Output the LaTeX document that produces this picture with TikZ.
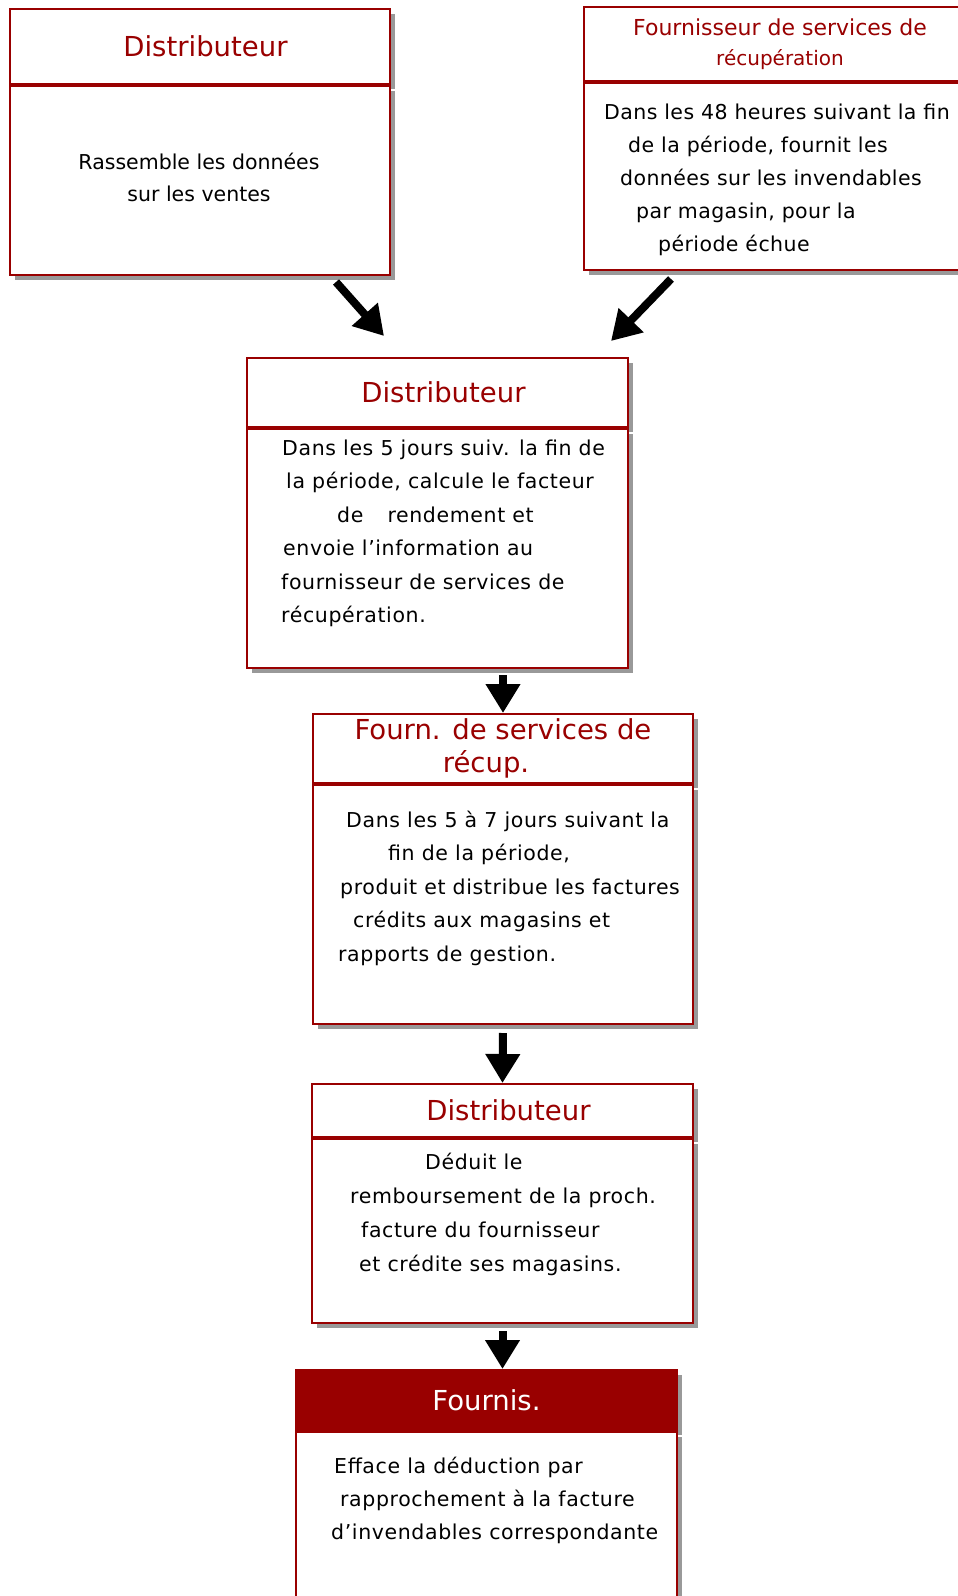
\documentclass[tikz,border=0pt]{standalone}
\usepackage{fontspec}
\setmainfont{DejaVu Sans}
\newfontfamily\spcfont[LetterSpace=3]{DejaVu Sans}
\newfontfamily\spcfontb[LetterSpace=2]{DejaVu Sans}
\usetikzlibrary{arrows.meta,positioning,shadows}
\definecolor{dred}{HTML}{990000}

\begin{document}
\begin{tikzpicture}[x=1pt, y=-1pt, node distance=0pt,
  shd/.style={general shadow={fill=black!40, shadow xshift=5pt, shadow yshift=-5pt}},
  hd/.style={draw=dred, line width=2pt, fill=white, text=dred, align=center,
             inner sep=0pt, shd, font=\fontsize{27.5}{33}\selectfont},
  bd/.style={draw=dred, line width=2pt, fill=white, inner sep=0pt, shd},
  txt/.style={anchor=base west, align=left, inner sep=0pt,
              font=\spcfont\fontsize{20.5}{33}\selectfont},
  fl/.style={-{Triangle[length=29pt, width=33pt]}, line width=8pt}]
\useasboundingbox (0,0) rectangle (958,1596);

% two sources of data (text nodes sit on the baseline of their last line)
\node[hd, minimum width=380pt, minimum height=75pt] (d1h) at (200,46.5) {\hspace*{11pt}Distributeur};
\node[bd, minimum width=380pt, minimum height=189pt, below=of d1h] (d1b) {};
\node[txt, anchor=base, align=center, font=\fontsize{20.5}{32}\selectfont] (d1t) at (199,201)
  {Rassemble les données\\sur les ventes};

\node[hd, minimum width=392pt, minimum height=74pt, font=\fontsize{22}{30}\selectfont]
  (fr1h) at (780,44) {Fournisseur de services de\\\fontsize{20}{30}\selectfont récupération};
\node[bd, minimum width=392pt, minimum height=187pt, below=of fr1h] (fr1b) {};
\node[txt, font=\spcfontb\fontsize{20.5}{33}\selectfont] (fr1t) at (604,251) {%
  Dans les 48 heures suivant la fin\\
  \hspace*{24pt}de la période, fournit les\\
  \hspace*{16pt}données sur les invendables\\
  \hspace*{32pt}par magasin, pour la\\
  \hspace*{54pt}période échue};

% distributor computes the factor
\node[hd, minimum width=381pt, minimum height=69pt] (d2h) at (437.5,392.5) {\hspace*{12pt}Distributeur};
\node[bd, minimum width=381pt, minimum height=239pt, below=of d2h] (d2b) {};
\node[txt, font=\spcfont\fontsize{20.5}{33.5}\selectfont] (d2t) at (281,622.5) {%
  \hspace*{1pt}Dans les 5 jours suiv. la fin de\\
  \hspace*{5pt}la période, calcule le facteur\\
  \hspace*{56pt}de\hspace*{17pt} rendement et\\
  \hspace*{2pt}envoie l’information au\\
  fournisseur de services de\\
  récupération.};

% recovery service provider
\node[hd, minimum width=380pt, minimum height=69pt] (fr2h) at (503,748.5)
  {Fourn. de services de\\récup.\hspace*{34pt}};
\node[bd, minimum width=380pt, minimum height=239pt, below=of fr2h] (fr2b) {};
\node[txt, font=\spcfont\fontsize{20.5}{33.5}\selectfont] (fr2t) at (338,961) {%
  \hspace*{8pt}Dans les 5 à 7 jours suivant la\\
  \hspace*{50pt}fin de la période,\\
  \hspace*{2pt}produit et distribue les factures\\
  \hspace*{15pt}crédits aux magasins et\\
  rapports de gestion.};

% distributor deducts
\node[hd, minimum width=381pt, minimum height=53pt] (d3h) at (502.5,1110.5) {\hspace*{12pt}Distributeur};
\node[bd, minimum width=381pt, minimum height=184pt, below=of d3h] (d3b) {};
\node[txt, font=\spcfont\fontsize{20.5}{34}\selectfont] (d3t) at (350,1271) {%
  \hspace*{75pt}Déduit le\\
  remboursement de la proch.\\
  \hspace*{11pt}facture du fournisseur\\
  \hspace*{9pt}et crédite ses magasins.};

% supplier
\node[hd, fill=dred, text=white, minimum width=381pt, minimum height=60pt] (foh) at (486.5,1400) {Fournis.};
\node[bd, minimum width=381pt, minimum height=200pt, below=of foh] (fob) {};
\node[txt] (fot) at (331,1539) {%
  \hspace*{3pt}Efface la déduction par\\
  \hspace*{9pt}rapprochement à la facture\\
  d’invendables correspondante};

% flow
\draw[fl] ([xshift=-55pt, yshift=-6pt]d1b.south east) -- ([xshift=138pt, yshift=21pt]d2h.north west);
\draw[fl] ([xshift=88pt, yshift=-8pt]fr1b.south west) -- ([xshift=-18pt, yshift=16pt]d2h.north east);
\draw[fl, shorten <=6pt] (fr2h.north |- d2b.south) -- (fr2h.north);
\draw[fl, shorten <=8pt] (fr2b.south) -- (d3h.north);
\draw[fl, shorten <=7pt] (d3b.south) -- (d3b.south |- foh.north);
\end{tikzpicture}
\end{document}
